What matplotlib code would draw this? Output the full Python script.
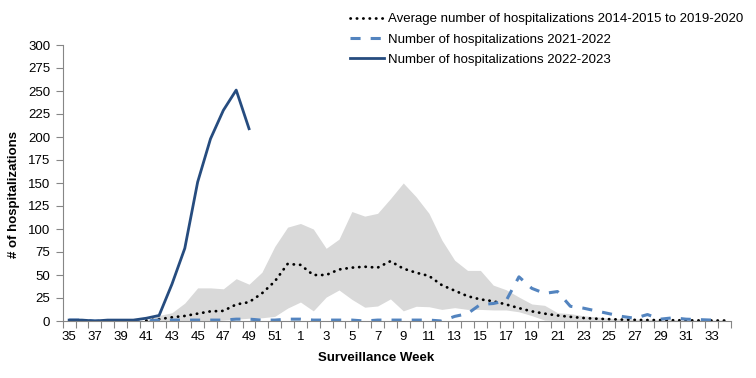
import numpy as np
import matplotlib
matplotlib.use("Agg")
import matplotlib.pyplot as plt

plt.rcParams["font.family"] = ["Liberation Sans", "DejaVu Sans"]

# surveillance weeks 35..52 then 1..34
weeks = list(range(35, 53)) + list(range(1, 35))

# 2022-2023 season (only up to week 49)
hosp_2223 = [1, 1, 0, 1, 1, 1, 3, 6, 40, 79, 151, 198, 229, 251, 209]

# 2021-2022 season
hosp_2122 = [1, 1, 0, 0, 0, 0, 0, 1, 1, 1, 1, 1, 1, 2, 2, 1, 1, 2, 2, 1,
             1, 1, 1, 0, 1, 1, 1, 1, 1, 0, 5, 8, 18, 19, 22, 48, 35.5, 30, 32, 16,
             14, 11, 8, 5, 3, 7, 2, 3.5, 2, 1.5, 1, np.nan]

# average 2014-2015 to 2019-2020
avg_hist = [np.nan, np.nan, np.nan, np.nan, np.nan, np.nan, 0.5, 2, 4, 5.5,
            8, 10.5, 11, 18, 20.5, 30, 43, 62, 61, 50,
            50, 56, 58, 59, 58, 65, 57, 52.5, 49, 39,
            33, 27, 23.5, 21.5, 18, 14, 10.5, 8, 6, 4.5,
            3.3, 2.5, 2, 1.5, 1.2, 1, 1, 0.8, 0.7, 0.6, 0.5, 0.5]

# historical min / max range (grey band)
band_low = [0, 0, 0, 0, 0, 0, 0, 0, 0, 0, 0, 0, 1, 2, 3, 3.5, 5, 14, 20.6, 11,
            26, 33.7, 23.5, 15, 16.3, 24, 11, 16, 15.5, 12.6, 14.5, 12.6, 12.6, 12, 12, 10, 5.8, 1, 0.5, 0.5,
            0.5, 0.5, 0.5, 0.5, 0.5, 0.5, 0.5, 0.5, 0.5, 0.5, 0.5, 0.5]
band_high = [0, 0, 0, 0, 0, 0, 0.5, 6, 9, 19.5, 36, 36, 35, 46, 40, 53, 81, 102, 106, 100,
             79, 89, 119, 114, 117, 133, 150, 135, 117, 88, 66, 55, 55, 39, 34, 26, 18.5, 17, 9, 8,
             5.7, 4.6, 3, 2.5, 2, 2, 1.5, 1.5, 1, 1, 1, 1]

x = np.arange(len(weeks))

fig = plt.figure(figsize=(7.56, 3.78), dpi=100)
ax = fig.add_axes([62.7 / 756, 1 - 321 / 378, (731 - 62.7) / 756, (321 - 45) / 378])

ax.fill_between(x, band_low, band_high, color="#d9d9d9", linewidth=0)
ax.plot(x, avg_hist, color="black", linewidth=2.0, linestyle=(0, (0.1, 2.2)),
        dash_capstyle="round", label="Average number of hospitalizations 2014-2015 to 2019-2020")
ax.plot(x, hosp_2122, color="#5384bf", linewidth=2.2, linestyle=(0, (3.3, 3.3)),
        label="Number of hospitalizations 2021-2022")
ax.plot(x[:len(hosp_2223)], hosp_2223, color="#264c7f", linewidth=2.0,
        label="Number of hospitalizations 2022-2023")

ax.set_xlim(-0.5, len(weeks) - 0.5)
ax.set_ylim(0, 300)
ax.set_yticks(range(0, 301, 25))

# tick marks between categories, labels on every other week
ax.set_xticks(np.arange(-0.5, len(weeks), 1))
ax.set_xticklabels([])
ax.set_xticks(x[::2], minor=True)
ax.set_xticklabels([str(w) for w in weeks[::2]], minor=True)
ax.tick_params(axis="x", which="major", length=5, width=0.8, color="#868686", direction="out")
ax.tick_params(axis="x", which="minor", length=0, pad=7, labelsize=9.5)
ax.tick_params(axis="y", length=5, width=0.8, color="#868686", pad=4, labelsize=9.5)

for s in ["top", "right"]:
    ax.spines[s].set_visible(False)
for s in ["left", "bottom"]:
    ax.spines[s].set_color("#868686")
    ax.spines[s].set_linewidth(0.8)

fig.text(376 / 756, 1 - 358 / 378, "Surveillance Week", ha="center", va="center",
         fontsize=9.5, fontweight="bold")
fig.text(14 / 756, 1 - 195 / 378, "# of hospitalizations", ha="center", va="center",
         rotation=90, fontsize=9.5, fontweight="bold")

fig.legend(loc="upper left", bbox_to_anchor=(350 / 756, 1 - 13 / 378), frameon=False,
           fontsize=9.5, handlelength=2.6, handletextpad=0.3, labelspacing=0.62,
           borderpad=0, borderaxespad=0)

fig.savefig("out.png", dpi=100)
